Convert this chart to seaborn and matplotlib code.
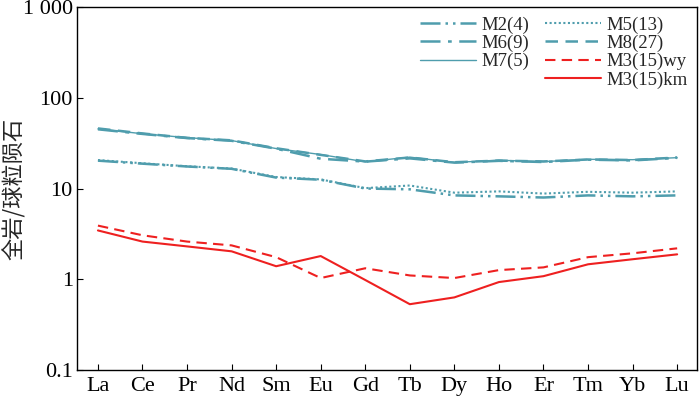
import numpy as np
import pandas as pd
import matplotlib
matplotlib.use("Agg")
import matplotlib.pyplot as plt
import seaborn as sns
from matplotlib.lines import Line2D

# REE chondrite-normalised values
elements = ["La", "Ce", "Pr", "Nd", "Sm", "Eu", "Gd", "Tb", "Dy", "Ho", "Er", "Tm", "Yb", "Lu"]

m2 = [20.3, 18.8, 17.5, 16.5, 13.2, 12.5, 10.0, 9.8, 8.4, 8.2, 7.96, 8.4, 8.2, 8.4]
m5 = [20.6, 19.0, 17.6, 16.6, 13.4, 12.6, 10.1, 10.8, 9.0, 9.3, 8.8, 9.2, 9.0, 9.3]
m6 = [45.0, 40.0, 36.0, 33.6, 27.5, 21.3, 19.8, 21.5, 19.3, 20.2, 19.6, 20.8, 20.4, 21.8]
m8 = [46.0, 40.5, 36.2, 34.0, 27.8, 23.5, 19.9, 22.0, 19.5, 20.3, 19.9, 20.9, 20.6, 22.0]
m7 = [45.5, 40.2, 36.4, 33.8, 27.6, 23.7, 19.7, 22.2, 19.4, 20.5, 19.8, 21.0, 20.8, 21.9]
m3_wy = [3.9, 3.05, 2.6, 2.36, 1.75, 1.03, 1.32, 1.1, 1.03, 1.26, 1.35, 1.75, 1.93, 2.19]
m3_km = [3.45, 2.6, 2.3, 2.03, 1.39, 1.8, 0.98, 0.53, 0.63, 0.93, 1.08, 1.46, 1.66, 1.88]

teal = "#4f9dad"
red = "#ee2020"

sns.set_theme(style="ticks")
plt.rcParams["font.family"] = ["Liberation Serif", "Noto Sans CJK SC"]

fig = plt.figure(figsize=(7, 3.99), dpi=100)
ax = fig.add_axes([0.11, 0.073, 0.886, 0.909])

pos = np.arange(len(elements))
series = [
    ("M2(4)", m2, teal, (0, (8, 2, 1, 2, 1, 2)), 1.8),
    ("M5(13)", m5, teal, (0, (1, 1.2)), 1.5),
    ("M6(9)", m6, teal, (0, (8, 3, 1.5, 3)), 1.8),
    ("M8(27)", m8, teal, (0, (5, 3)), 1.8),
    ("M7(5)", m7, teal, "-", 1.0),
    ("M3(15)wy", m3_wy, red, (0, (5, 3)), 1.5),
    ("M3(15)km", m3_km, red, "-", 1.5),
]

handles = {}
for name, vals, color, ls, lw in series:
    df = pd.DataFrame({"x": pos, "y": vals})
    sns.lineplot(data=df, x="x", y="y", ax=ax, color=color, linewidth=lw,
                 linestyle=ls, legend=False)
    handles[name] = Line2D([], [], color=color, linestyle=ls, linewidth=lw)

ax.set_yscale("log")
ax.set_ylim(0.1, 1000)
ax.set_xlim(-0.47, 13.45)
ax.set_yticks([0.1, 1, 10, 100, 1000])
ax.set_yticklabels(["0.1", "1", "10", "100", "1 000"])
ax.minorticks_off()
ax.set_xticks(pos)
ax.set_xticklabels(elements)
ax.tick_params(direction="in", length=4, width=0.8, labelsize=16, colors="black")
ax.tick_params(axis="x", pad=5)
ax.tick_params(axis="y", pad=3)
ax.set_xlabel("")
ax.set_ylabel("全岩/球粒陨石", fontsize=16, family=["Noto Sans CJK SC"],
              va="center")
ax.yaxis.set_label_coords(-0.102, 0.5)
for sp in ax.spines.values():
    sp.set_linewidth(1.0)
    sp.set_color("black")

blank = Line2D([], [], color="none")
order = ["M2(4)", "M6(9)", "M7(5)", None, "M5(13)", "M8(27)", "M3(15)wy", "M3(15)km"]
leg_h = [handles[n] if n else blank for n in order]
leg_l = [n if n else "" for n in order]
ax.legend(leg_h, leg_l, ncol=2, loc="upper right", frameon=False, fontsize=13.5,
          handlelength=3.0, handletextpad=0.3, columnspacing=0.8,
          labelspacing=0.05, borderaxespad=0.2, borderpad=0.3)

fig.savefig("out.png", dpi=100)
